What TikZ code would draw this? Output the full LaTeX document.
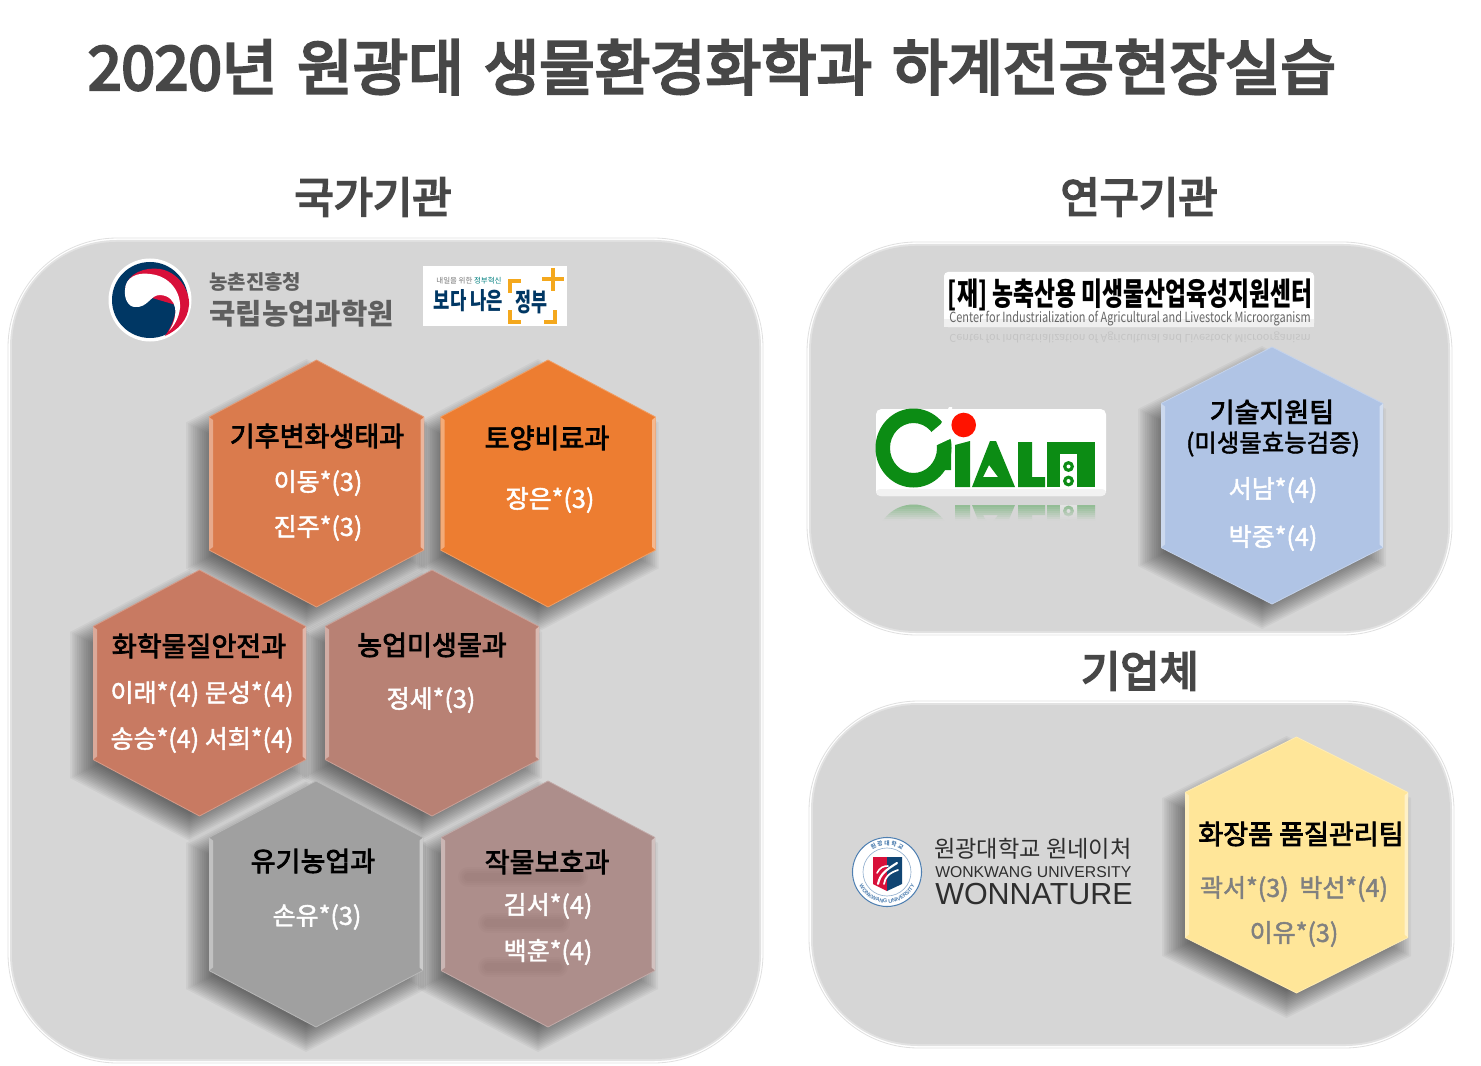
\documentclass[tikz,border=0pt]{standalone}
\usepackage{fontspec}
\usepackage{graphicx}
\usetikzlibrary{decorations.text}
\setmainfont{Liberation Sans}
\newfontfamily\kr{Noto Sans CJK KR}
\newfontfamily\krm[FakeBold=1.8]{Noto Sans CJK KR}
\newfontfamily\krb[FakeBold=2.8]{Noto Sans CJK KR}
\newfontfamily\krh[FakeBold=4.5]{Noto Sans CJK KR}
\definecolor{panelgray}{HTML}{D6D6D6}
\definecolor{headgray}{HTML}{474747}
\definecolor{logogray}{HTML}{5F5F5F}
\definecolor{navy}{HTML}{003764}
\definecolor{tred}{HTML}{D8103A}
\definecolor{cgreen}{HTML}{0C8C14}
\definecolor{corange}{HTML}{F4A81D}
\definecolor{sealblue}{HTML}{4F7FB0}
\tikzset{
  head/.style={font=\krh\fontsize{32}{36}\selectfont,text=headgray,inner sep=0pt},
  hextitle/.style={font=\krb\fontsize{20.3}{24}\selectfont,text=black,inner sep=0pt},
  hexname/.style={font=\krm\fontsize{18.8}{24}\selectfont,text=white,inner sep=0pt},
  grayname/.style={font=\krm\fontsize{18.8}{24}\selectfont,text=black!50,inner sep=0pt},
  logotext/.style={inner sep=0pt,anchor=west},
}
% cx cy hw ht sh e
\newcommand\hexp[6]{({#1},{#2-#4-#6})--({#1+#3+#6},{#2-#5-#6/2})--({#1+#3+#6},{#2+#5+#6/2})--({#1},{#2+#4+#6})--({#1-#3-#6},{#2+#5+#6/2})--({#1-#3-#6},{#2-#5-#6/2})--cycle}
\newcommand\hexshadow[5]{%
  \foreach \k in {0,...,15}{
    \pgfmathsetmacro\ee{13-1.8*\k}
    \fill[black,opacity=0.038,line join=round] \hexp{#1-10}{#2+12}{#3}{#4}{#5}{\ee};
  }}
\newcommand\hexa[6]{% cx cy hw ht sh colour
  \fill[#6] \hexp{#1}{#2}{#3}{#4}{#5}{0};
  \draw[#6!75!white,line width=0.6pt,line join=round] ({#1-#3},{#2-#5})--({#1},{#2-#4})--({#1+#3},{#2-#5});
  \draw[#6!75!white,line width=0.6pt,line join=round] ({#1-#3},{#2+#5})--({#1},{#2+#4})--({#1+#3},{#2+#5});
  \fill[#6!65!white] ({#1-#3},{#2-#5})--({#1-#3+4},{#2-#5+3})--({#1-#3+4},{#2+#5-3})--({#1-#3},{#2+#5})--cycle;
  \fill[#6!55!white] ({#1+#3},{#2-#5})--({#1+#3-3.5},{#2-#5+3})--({#1+#3-3.5},{#2+#5-3})--({#1+#3},{#2+#5})--cycle;
}
\newcommand\panel[4]{% x0 y0 x1 y1
  \draw[black!12,fill=white,line width=0.6pt,rounded corners=82pt] (#1,#2) rectangle (#3,#4);
  \fill[panelgray!70!white,rounded corners=80pt] ({#1+2},{#2+2}) rectangle ({#3-2},{#4-2});
  \fill[panelgray,rounded corners=78pt] ({#1+4},{#2+4}) rectangle ({#3-4},{#4-4});
}
\newcommand\cialm{%
  \fill[cgreen,even odd rule] (913.5,448) ellipse [x radius=38,y radius=39.5] (913.5,448) ellipse [x radius=23.5,y radius=25];
  \fill[cgreen] (955,445)--(970,441)--(970,487)--(955,487)--cycle;
  \fill[cgreen,even odd rule] (972,487)--(990,441)--(996,441)--(1015,487)--cycle (989,465)--(998,477)--(983,477)--cycle;
  \fill[cgreen] (1018,442)--(1032,442)--(1032,477)--(1045,477)--(1045,487)--(1018,487)--cycle;
  \fill[cgreen] (1047,442)--(1095,442)--(1095,487)--(1047,487)--cycle;
}
\newcommand\cialmholes{%
  \fill[white] (1060,454)--(1077,454)--(1077,487)--(1060,487)--cycle;
  \fill[cgreen] (1068.5,466.5) circle [radius=5.5] (1068.5,481) circle [radius=5.5];
  \fill[white] (1068.5,466.5) circle [radius=2] (1068.5,481) circle [radius=2];
}
\begin{document}
\begin{tikzpicture}[x=0.75pt,y=-0.75pt]
\useasboundingbox (0,0) rectangle (1481,1066);
\fill[white] (0,0) rectangle (1481,1066);

\node[font=\krh\fontsize{45}{50}\selectfont,text=headgray,inner sep=0pt] (title) at (712,67) {\resizebox{936pt}{!}{2020년\hspace{15pt}원광대\hspace{15pt}생물환경화학과\hspace{15pt}하계전공현장실습}};

\node[head] (h1) at (373,197) {국가기관};
\node[head] (h2) at (1139,197) {연구기관};
\node[head] (h3) at (1140,671) {기업체};

\panel{8}{238}{763}{1063}
\panel{807}{242}{1452}{635}
\panel{809}{701}{1454}{1048}

% taegeuk
\fill[white] (150,300) circle [radius=41.5];
\fill[navy] (150,300) circle [radius=38];
\fill[tred] (125,290) .. controls (127,272) and (146,267) .. (160,269) .. controls (178,272) and (190,290) .. (189,305) .. controls (188,320) and (178,330) .. (165,336) .. controls (172,326) and (176,316) .. (176,305) -- cycle;
\fill[white] (125,290) .. controls (125,277) and (138,272) .. (150,274) .. controls (170,276) and (181,292) .. (180,308) .. controls (179,318) and (174,326) .. (169,331) .. controls (179,316) and (178,296) .. (160,295) .. controls (150,295) and (148,308) .. (135,307) .. controls (128,307) and (124,298) .. (125,290) -- cycle;

\node[logotext,font=\kr\bfseries\fontsize{15}{18}\selectfont,text=logogray] (rda) at (209,282) {농촌진흥청};
\node[logotext,font=\kr\bfseries\fontsize{21.5}{24}\selectfont,text=logogray] (naas) at (209,314) {국립농업과학원};

% better government box
\fill[white] (423,266) rectangle (567,326);
\node[inner sep=0pt,font=\kr\fontsize{5.6}{7}\selectfont,text=black!55] (bg1) at (469,281) {내일을 위한 {\color{teal}정부혁신}};
\node[inner sep=0pt,font=\kr\bfseries,text=navy] (bg2) at (468.5,301) {\resizebox{52pt}{15pt}{보다 나은}};
\node[inner sep=0pt,font=\kr\bfseries,text=navy] (bg3) at (531,302) {\resizebox{24pt}{16pt}{정부}};
\draw[corange,line width=2.4pt] (510,293)--(510,281)--(521,281);
\draw[corange,line width=2.4pt] (510,310)--(510,322)--(521,322);
\draw[corange,line width=2.4pt] (544,322)--(555,322)--(555,310);
\draw[corange,line width=2.6pt] (542,279)--(564,279) (553,268)--(553,291);

% CIALM centre logo
\fill[white,rounded corners=3pt] (944,272) rectangle (1314,327);
\fill[black!6] (944,319) rectangle (1314,327);
\node[inner sep=0pt,font=\kr\bfseries] (ci1) at (1130,295) {\resizebox{273pt}{20pt}{[재] 농축산용 미생물산업육성지원센터}};
\node[inner sep=0pt,font=\kr,text=black!60] (ci2) at (1130,318.5) {\resizebox{271pt}{8.5pt}{Center for Industrialization of Agricultural and Livestock Microorganism}};
\node[inner sep=0pt,font=\kr,text=black!60,opacity=0.16,yscale=-1] (ci3) at (1130,337) {\resizebox{271pt}{6.5pt}{Center for Industrialization of Agricultural and Livestock Microorganism}};

\fill[white,rounded corners=4pt] (876,409) rectangle (1106,496);
\fill[black!5,rounded corners=3pt] (876,489) rectangle (1106,496);
\cialm
\fill[white] (915,446)--(941,424)--(949,407)--(952,407)--(952,438)--(937,445)--cycle;
\fill[cgreen] (937,455)--(951,441)--(951,470)--(937,470)--cycle;
\cialmholes
\fill[red!85!orange] (963.7,425) circle [radius=12.3];
\begin{scope}
  \clip (870,503) rectangle (1110,520);
  \begin{scope}[transparency group,opacity=0.4]
    \begin{scope}[yshift=-744pt,yscale=-1]
      \cialm
      \cialmholes
    \end{scope}
  \end{scope}
  \foreach \i in {0,...,8}{
    \pgfmathsetmacro\oo{min(1,0.06+0.115*\i)}
    \fill[panelgray,opacity=\oo] (870,{503+2*\i}) rectangle (1110,{505+2*\i});
  }
\end{scope}

% Wonkwang seal
\fill[white] (887,872) circle [radius=35];
\draw[sealblue,line width=0.8pt] (887,872) circle [radius=34.5];
\draw[sealblue!60!white,line width=0.5pt] (887,872) circle [radius=24];
\path[postaction={decorate},decoration={text along path,text align=center,text={|\fontsize{4.1}{5}\selectfont\bfseries\color{sealblue}|WONKWANG UNIVERSITY}}]
  (887,872) ++(177:31) arc [start angle=177,end angle=3,radius=31];
\path[postaction={decorate},decoration={text along path,text align=center,text={|\kr\fontsize{4.3}{5}\selectfont\bfseries\color{sealblue}|원 광 대 학 교}}]
  (887,872) ++(210:26.5) arc [start angle=210,end angle=330,radius=26.5];
\fill[tred] (873,857)--(887,857)--(887,891)--(873,884)--cycle;
\fill[navy!80!sealblue] (887,857)--(902,857)--(902,884)--(887,891)--cycle;
\draw[white,line width=1.6pt,line cap=round] (878,884) .. controls (880,874) and (886,870) .. (897,863);
\draw[white,line width=1.3pt,line cap=round] (884,884) .. controls (885,877) and (889,873) .. (898,870);
\draw[white,line width=1.2pt,line cap=round] (877,873) .. controls (880,867) and (884,866) .. (888,866);

\node[logotext,font=\kr,text=black!82] (wn1) at (934,849) {\resizebox{148pt}{!}{원광대학교 원네이처}};
\node[logotext,text=black!82] (wn2) at (935,872) {\resizebox{147pt}{!}{WONKWANG UNIVERSITY}};
\node[logotext,text=black!82] (wn3) at (935,894) {\resizebox{148pt}{!}{WONNATURE}};

% hexagon shadows
\hexshadow{316.5}{483.5}{107.5}{123.5}{66.5}
\hexshadow{548}{483.5}{107.5}{123.5}{66.5}
\hexshadow{199.5}{693}{106.5}{123}{66.5}
\hexshadow{432}{693}{107}{123}{66.5}
\hexshadow{316}{904}{107}{123}{66.5}
\hexshadow{548}{904}{107}{123}{66.5}
\hexshadow{1272}{475.5}{111}{128.5}{72}
\hexshadow{1296.5}{865}{111.5}{128}{72.5}

\definecolor{hA}{HTML}{DA7B4D}
\definecolor{hB}{HTML}{ED7D31}
\definecolor{hC}{HTML}{C87A62}
\definecolor{hD}{HTML}{B88174}
\definecolor{hE}{HTML}{A0A0A0}
\definecolor{hF}{HTML}{AD8E8B}
\definecolor{hG}{HTML}{B0C4E5}
\definecolor{hH}{HTML}{FFE699}
\hexa{316.5}{483.5}{107.5}{123.5}{66.5}{hA}
\hexa{548}{483.5}{107.5}{123.5}{66.5}{hB}
\hexa{199.5}{693}{106.5}{123}{66.5}{hC}
\hexa{432}{693}{107}{123}{66.5}{hD}
\hexa{316}{904}{107}{123}{66.5}{hE}
\hexa{548}{904}{107}{123}{66.5}{hF}
\hexa{1272}{475.5}{111}{128.5}{72}{hG}
\hexa{1296.5}{865}{111.5}{128}{72.5}{hH}

% faint blotches on the last hexagon
\foreach \yy/\xa/\xb in {877/468/578,923/488/560,967/488/558}{
  \foreach \w in {15,12,9,6}{
    \draw[black,opacity=0.014,line width=\w pt,line cap=round] (\xa,\yy)--(\xb,\yy);
  }
}

\node[hextitle] (t1) at (317,436) {기후변화생태과};
\node[hexname] (t1a) at (318,483) {이동*(3)};
\node[hexname] (t1b) at (318,528) {진주*(3)};

\node[hextitle] (t2) at (547,438) {토양비료과};
\node[hexname] (t2a) at (550,500) {장은*(3)};

\node[hextitle] (t3) at (199,646) {화학물질안전과};
\node[hexname] (t3a) at (202,694) {이래*(4) 문성*(4)};
\node[hexname] (t3b) at (202,740) {송승*(4) 서희*(4)};

\node[hextitle] (t4) at (432,645) {농업미생물과};
\node[hexname] (t4a) at (431,700) {정세*(3)};

\node[hextitle] (t5) at (313,861) {유기농업과};
\node[hexname] (t5a) at (317,917) {손유*(3)};

\node[hextitle] (t6) at (547,862) {작물보호과};
\node[hexname] (t6a) at (548,906) {김서*(4)};
\node[hexname] (t6b) at (548,952) {백훈*(4)};

\node[hextitle] (t7) at (1272,412) {기술지원팀};
\node[inner sep=0pt,font=\krm\fontsize{18.3}{24}\selectfont,text=black] (t7s) at (1273,444) {(미생물효능검증)};
\node[hexname] (t7a) at (1273,490) {서남*(4)};
\node[hexname] (t7b) at (1273,538) {박중*(4)};

\node[hextitle] (t8) at (1301,834) {화장품 품질관리팀};
\node[grayname] (t8a) at (1294,889) {곽서*(3)\hspace{8pt}박선*(4)};
\node[grayname] (t8b) at (1294,934) {이유*(3)};
\end{tikzpicture}
\end{document}
